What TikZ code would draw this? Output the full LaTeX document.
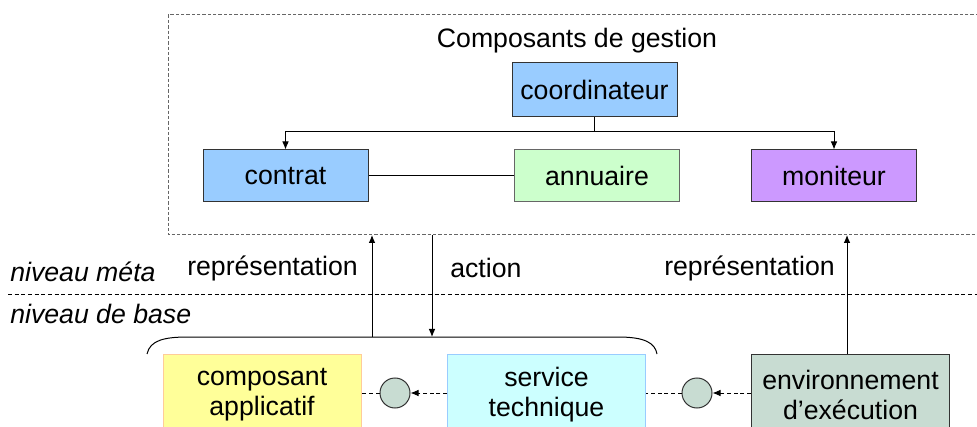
\documentclass[tikz,border=0pt]{standalone}
\usepackage{fontspec}
\setmainfont{Liberation Sans}
\usetikzlibrary{arrows.meta}
\definecolor{cblue}{HTML}{99CCFF}
\definecolor{cgreen}{HTML}{CCFFCC}
\definecolor{cviolet}{HTML}{CC99FF}
\definecolor{cyellow}{HTML}{FFFF99}
\definecolor{corange}{HTML}{FFCC99}
\definecolor{ccyan}{HTML}{CCFFFF}
\definecolor{cgrey}{HTML}{C8DCD2}
\begin{document}
\begin{tikzpicture}[x=0.75pt,y=-0.75pt,
  font=\fontsize{20}{22.5}\selectfont,
  >={Latex[length=6pt,width=5pt]},
  topbox/.style={draw=black!80, line width=0.75pt, minimum width=123.75pt, minimum height=39pt, inner sep=0pt},
  botbox/.style={line width=0.75pt, minimum width=148.5pt, minimum height=61.5pt, inner sep=0pt, align=center},
  circ/.style={circle, draw=black!80, fill=cgrey, line width=0.75pt, minimum size=22.5pt, inner sep=0pt},
  conn/.style={line width=0.75pt},
  dl/.style={line width=0.75pt, dash pattern=on 3pt off 2pt},
  lbl/.style={inner sep=0pt}]
\useasboundingbox (0,0) rectangle (977,427);
\clip (0,0) rectangle (977,427);

% management frame
\draw[black!60, line width=0.75pt, dash pattern=on 2.5pt off 1.5pt] (995,15) -- (168,15) -- (168,235) -- (995,235);
\node[lbl] (title) at (577,41) {Composants de gestion};

\node[topbox, fill=cblue, minimum height=40.5pt] (coord) at (594.5,90) {coordinateur};
\node[topbox, fill=cblue] (contrat) at (285.5,176) {contrat};
\node[topbox, fill=cgreen, draw=black!60] (annu) at (597,176) {annuaire};
\node[topbox, fill=cviolet] (moni) at (834,176) {moniteur};

\coordinate (split) at (594.5,132);
\draw[conn] (coord.south) -- (split);
\draw[conn,->] (split) -| (contrat);
\draw[conn,->] (split) -| (moni);
\draw[conn] (contrat) -- (annu);

% level separator
\coordinate (sepL) at (8,295);
\coordinate (sepR) at (977,295);
\draw[dl] (sepL) -- (sepR);
\node[lbl, anchor=west, font=\fontsize{20}{22.5}\selectfont\itshape] (meta) at (10,272) {niveau méta};
\node[lbl, anchor=west, font=\fontsize{20}{22.5}\selectfont\itshape] (base) at (10,314) {niveau de base};

% brace over base components
\coordinate (brL) at (147,354);
\coordinate (brR) at (657,354);
\draw[conn] (brL) .. controls (150,340) and (165,337) .. (188,337) -- (618,337) .. controls (645,337) and (655,343) .. (brR);

\coordinate (upA) at (372,337);
\coordinate (upAtop) at (372,235);
\coordinate (dnB) at (432,235);
\coordinate (dnBbot) at (432,337);
\draw[conn,->] (upA) -- (upAtop);
\draw[conn,->] (dnB) -- (dnBbot);
\node[lbl, anchor=east] (rep1) at (358,268) {représentation};
\node[lbl, anchor=west] (act) at (450,268) {action};
\node[lbl, anchor=east] (rep2) at (835,268) {représentation};

% base components
\node[botbox, fill=cyellow, draw=corange] (comp) at (262,395) {composant\\applicatif};
\node[botbox, fill=ccyan, draw=cblue] (serv) at (546.5,395) {service\\technique};
\node[botbox, fill=cgrey, draw=black!80] (env) at (850.5,395) {environnement\\d’exécution};
\node[circ] (c1) at (395,393) {};
\node[circ] (c2) at (697,393) {};

\draw[dl,->] (serv.west |- c1) -- (c1);
\draw[dl] (c1) -- (c1 -| comp.east);
\draw[dl,->] (env.west |- c2) -- (c2);
\draw[dl] (c2) -- (c2 -| serv.east);

\coordinate (envtop) at (847,354);
\coordinate (monibot) at (847,235);
\draw[conn,->] (envtop) -- (monibot);
\end{tikzpicture}
\end{document}
